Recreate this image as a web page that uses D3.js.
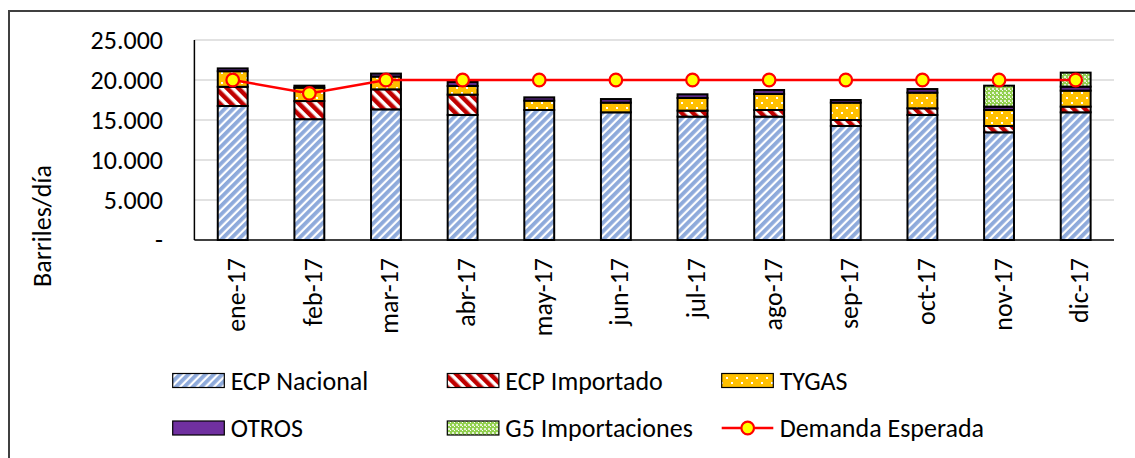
<!DOCTYPE html>
<html>
<head>
<meta charset="utf-8">
<script src="https://cdn.jsdelivr.net/npm/d3@7"></script>
<style>
  html, body { margin: 0; padding: 0; background: #fff; }
  svg { display: block; }
  text { font-family: Carlito, Calibri, Lato, sans-serif; fill: #000; }
</style>
</head>
<body>
<svg id="chart" width="1135" height="458"></svg>
<script>
// ---------- data ----------
const months = ["ene-17","feb-17","mar-17","abr-17","may-17","jun-17","jul-17","ago-17","sep-17","oct-17","nov-17","dic-17"];
const ecpNacional  = [16750, 15100, 16330, 15630, 16250, 15960, 15420, 15420, 14250, 15630, 13460, 15960];
const ecpImportado = [ 2400,  2270,  2500,  2540,     0,     0,   750,   830,   750,   830,   790,   710];
const tygas        = [ 1950,  1670,  1600,  1080,  1170,  1210,  1580,  2000,  2170,  1960,  2000,  2000];
const otros        = [  350,   250,   370,   500,   410,   450,   460,   500,   330,   450,   420,   500];
const g5           = [    0,     0,     0,     0,     0,     0,     0,     0,     0,     0,  2620,  1750];
const demanda      = [20000, 18330, 20000, 20000, 20000, 20000, 20000, 20000, 20000, 20000, 20000, 20000];
const yTicks = [0, 5000, 10000, 15000, 20000, 25000];
const seriesNames = ["ECP Nacional","ECP Importado","TYGAS","OTROS","G5 Importaciones","Demanda Esperada"];

// ---------- setup ----------
const svg = d3.select("#chart");
const FONT = 26;

// frame border
svg.append("rect").attr("x", 9).attr("y", 11).attr("width", 1200).attr("height", 600)
  .attr("fill", "none").attr("stroke", "#404040").attr("stroke-width", 2);

// patterns
const defs = svg.append("defs");
const pBlue = defs.append("pattern").attr("id", "pNac").attr("patternUnits", "userSpaceOnUse")
  .attr("width", 6).attr("height", 6).attr("patternTransform", "rotate(45)");
pBlue.append("rect").attr("width", 6).attr("height", 6).attr("fill", "#fff");
pBlue.append("rect").attr("width", 3.8).attr("height", 6).attr("fill", "#8eaadb");

const pRed = defs.append("pattern").attr("id", "pImp").attr("patternUnits", "userSpaceOnUse")
  .attr("width", 8).attr("height", 8).attr("patternTransform", "rotate(-45)");
pRed.append("rect").attr("width", 8).attr("height", 8).attr("fill", "#fff");
pRed.append("rect").attr("width", 4.5).attr("height", 8).attr("fill", "#c00000");

const pTy = defs.append("pattern").attr("id", "pTy").attr("patternUnits", "userSpaceOnUse")
  .attr("width", 10).attr("height", 10);
pTy.append("rect").attr("width", 10).attr("height", 10).attr("fill", "#ffc000");
pTy.append("rect").attr("x", 1).attr("y", 2).attr("width", 2).attr("height", 2).attr("fill", "#fff");
pTy.append("rect").attr("x", 6).attr("y", 7).attr("width", 2).attr("height", 2).attr("fill", "#fff");

const pG5 = defs.append("pattern").attr("id", "pG5").attr("patternUnits", "userSpaceOnUse")
  .attr("width", 4).attr("height", 4);
pG5.append("rect").attr("width", 4).attr("height", 4).attr("fill", "#92d050");
pG5.append("rect").attr("x", 0).attr("y", 0).attr("width", 2).attr("height", 2).attr("fill", "#e4f3d4");
pG5.append("rect").attr("x", 2).attr("y", 2).attr("width", 1).attr("height", 1).attr("fill", "#fff");

const fills = ["url(#pNac)", "url(#pImp)", "url(#pTy)", "#5b2a86", "url(#pG5)"];
const legendFills = ["url(#pNac)", "url(#pImp)", "url(#pTy)", "#7030a0", "url(#pG5)"];

// scales
const x = d3.scaleBand().domain(months).range([194.4, 1114]).padding(0);
const y = d3.scaleLinear().domain([0, 25000]).range([240, 40]);
const barW = x.bandwidth() * 0.39;

// gridlines
svg.append("g").selectAll("line").data(yTicks.filter(d => d > 0)).join("line")
  .attr("x1", 194.4).attr("x2", 1114)
  .attr("y1", d => y(d)).attr("y2", d => y(d))
  .attr("stroke", "#d9d9d9").attr("stroke-width", 1.5);

// y axis labels
const fmt = d => d === 0 ? "-" : d3.format(",")(d).replace(/,/g, ".");
svg.append("g").selectAll("text").data(yTicks).join("text")
  .attr("x", 163).attr("y", d => y(d)).attr("dy", "0.35em")
  .attr("text-anchor", "end").attr("font-size", FONT)
  .text(fmt);

// y title
svg.append("text").attr("transform", "translate(51,226) rotate(-90)")
  .attr("text-anchor", "middle").attr("font-size", FONT).text("Barriles/día");

// stacked bars
const rows = months.map((m, i) => ({ m, s0: ecpNacional[i], s1: ecpImportado[i], s2: tygas[i], s3: otros[i], s4: g5[i] }));
const stack = d3.stack().keys(["s0", "s1", "s2", "s3", "s4"])(rows);
stack.forEach((layer, li) => {
  svg.append("g").selectAll("rect").data(layer.filter(d => d[1] - d[0] > 0)).join("rect")
    .attr("x", d => x(d.data.m) + (x.bandwidth() - barW) / 2)
    .attr("width", barW)
    .attr("y", d => y(d[1]))
    .attr("height", d => y(d[0]) - y(d[1]))
    .attr("fill", fills[li])
    .attr("stroke", "#000").attr("stroke-width", 2);
});

// axes lines
svg.append("line").attr("x1", 194.4).attr("x2", 194.4).attr("y1", 40).attr("y2", 240)
  .attr("stroke", "#000").attr("stroke-width", 1.5);
svg.append("line").attr("x1", 194.4).attr("x2", 1114).attr("y1", 240).attr("y2", 240)
  .attr("stroke", "#000").attr("stroke-width", 1.5);

// x labels
svg.append("g").selectAll("text").data(months).join("text")
  .attr("transform", d => `translate(${x(d) + x.bandwidth() / 2 + 12.5},258) rotate(-90)`)
  .attr("text-anchor", "end").attr("font-size", FONT)
  .text(d => d);

// demand line
const line = d3.line().x((d, i) => x(months[i]) + x.bandwidth() / 2).y(d => y(d));
svg.append("path").datum(demanda).attr("d", line)
  .attr("fill", "none").attr("stroke", "#ff0000").attr("stroke-width", 2.5);
svg.append("g").selectAll("circle").data(demanda).join("circle")
  .attr("cx", (d, i) => x(months[i]) + x.bandwidth() / 2)
  .attr("cy", d => y(d)).attr("r", 6.3)
  .attr("fill", "#ffff00").attr("stroke", "#ff0000").attr("stroke-width", 2.2);

// legend
const legendPos = [
  { x: 172.7, y: 380.5 }, { x: 447.3, y: 380.5 }, { x: 721.7, y: 380.5 },
  { x: 172.7, y: 428 },   { x: 447.3, y: 428 },   { x: 721.7, y: 428 }
];
const lg = svg.append("g");
seriesNames.forEach((name, i) => {
  const p = legendPos[i];
  if (i < 5) {
    lg.append("rect").attr("x", p.x).attr("y", p.y - 7).attr("width", 51.6).attr("height", 14)
      .attr("fill", legendFills[i]).attr("stroke", "#000").attr("stroke-width", 1.2);
  } else {
    lg.append("line").attr("x1", p.x).attr("x2", p.x + 51.6).attr("y1", p.y).attr("y2", p.y)
      .attr("stroke", "#ff0000").attr("stroke-width", 2.5);
    lg.append("circle").attr("cx", p.x + 26).attr("cy", p.y).attr("r", 6.3)
      .attr("fill", "#ffff00").attr("stroke", "#ff0000").attr("stroke-width", 2.2);
  }
  lg.append("text").attr("x", p.x + 58).attr("y", p.y).attr("dy", "0.35em")
    .attr("font-size", FONT).text(name);
});
</script>
</body>
</html>
